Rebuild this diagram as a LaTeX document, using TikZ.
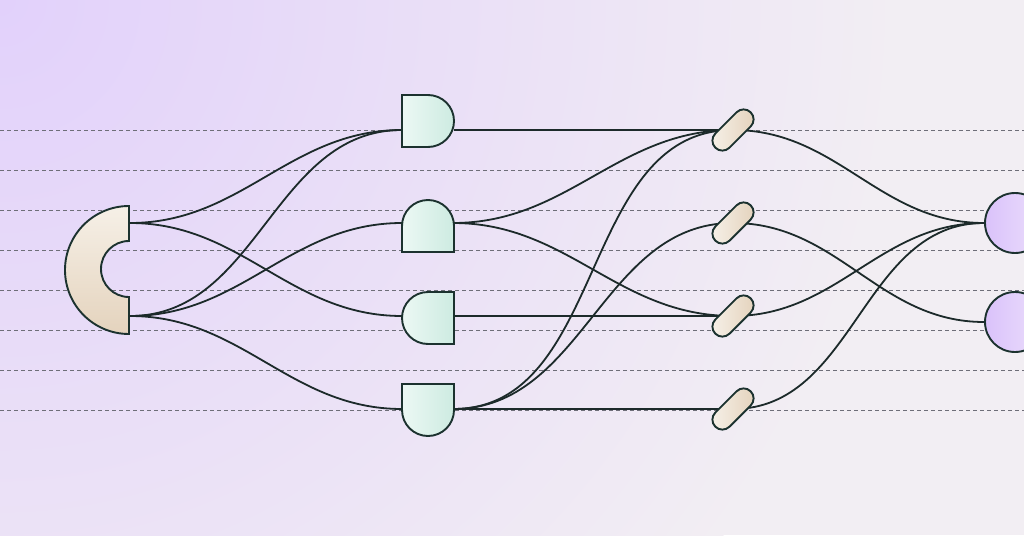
\documentclass[tikz,border=0pt]{standalone}
\usepackage{tikz}
\usetikzlibrary{shapes.misc}
\definecolor{bgtop}{HTML}{E2D1FB}
\definecolor{bgbot}{HTML}{F2EEF3}
\definecolor{wirec}{HTML}{1C2A2A}
\definecolor{edgec}{HTML}{1C322F}
\definecolor{gridc}{HTML}{6E6E78}
\definecolor{mintA}{HTML}{CDEBE1}
\definecolor{mintB}{HTML}{ECF8F4}
\definecolor{sandA}{HTML}{E4D3BD}
\definecolor{sandB}{HTML}{F6F0E7}
\definecolor{lilacA}{HTML}{DAC2FA}
\definecolor{lilacB}{HTML}{ECDFFC}
\tikzset{
  gate/.style={rounded rectangle, rounded rectangle left arc=none, minimum width=52pt,
    minimum height=52pt, inner sep=0pt, draw=edgec, line width=1.9pt, left color=mintB, right color=mintA},
  pill/.style={rounded rectangle, minimum width=50pt, minimum height=20pt, inner sep=0pt,
    draw=edgec, line width=1.9pt, rotate=45, left color=sandB, right color=sandA},
  sink/.style={circle, minimum size=60pt, inner sep=0pt, draw=edgec, line width=1.9pt,
    left color=lilacA, right color=lilacB},
  wire/.style={draw=wirec, line width=1.8pt},
  rail/.style={draw=gridc, line width=1pt, dash pattern=on 4pt off 3pt}
}

\begin{document}
\begin{tikzpicture}[x=1pt,y=-1pt]
\useasboundingbox (0,0) rectangle (1024,535);
\clip (0,0) rectangle (1024,535);
\fill[bgbot] (0,0) rectangle (1024,535);
\shade[inner color=bgtop, outer color=bgbot] (0,0) circle[radius=900];
\foreach \y in {130,170,...,410}
  \draw[rail] (0,\y) -- (1024,\y);

% source
\shadedraw[top color=sandB, bottom color=sandA, draw=edgec, line width=1.9pt]
  (129,206) arc[start angle=270, end angle=90, radius=64] -- (129,297)
  arc[start angle=90, end angle=270, radius=28] -- cycle;
\coordinate (h1) at (130,223);
\coordinate (h2) at (130,316);

% ports of the gates
\coordinate (g1in) at (402,130); \coordinate (g1out) at (454,130);
\coordinate (g2in) at (402,223); \coordinate (g2out) at (453,223);
\coordinate (g3in) at (402,316); \coordinate (g3out) at (453,316);
\coordinate (g4in) at (402,409); \coordinate (g4out) at (453,409);

\node (p1) at (733,130) {}; \node (p2) at (733,223) {};
\node (p3) at (733,316) {}; \node (p4) at (733,409) {};
\node[sink] (c1) at (1015,223) {};
\node[sink] (c2) at (1015,322) {};

\draw[wire] (h1) to[out=0,in=180] (g1in);
\draw[wire] (h1) to[out=0,in=180] (g3in);
\draw[wire] (h2) to[out=0,in=180] (g1in);
\draw[wire] (h2) to[out=0,in=180] (g2in);
\draw[wire] (h2) to[out=0,in=180] (g4in);

\draw[wire] (g1out) -- (p1.center);
\draw[wire] (g2out) to[out=0,in=180] (p1.center);
\draw[wire] (g2out) to[out=0,in=180] (p3.center);
\draw[wire] (g3out) -- (p3.center);
\draw[wire] (g4out) to[out=0,in=180] (p1.center);
\draw[wire] (g4out) to[out=0,in=180] (p2.center);
\draw[wire] (g4out) -- (p4.center);

\draw[wire] (p1.center) to[out=0,in=180] (c1.west);
\draw[wire] (p2.center) to[out=0,in=180] (c2.west);
\draw[wire] (p3.center) to[out=0,in=180] (c1.west);
\draw[wire] (p4.center) to[out=0,in=180] (c1.west);

\node[gate] (g1) at (428,121) {};
\node[gate, rotate=90] (g2) at (428,226) {};
\node[gate, rotate=180] (g3) at (428,318) {};
\node[gate, rotate=-90] (g4) at (428,410) {};

\node[pill] at (p1) {};
\node[pill] at (p2) {};
\node[pill] at (p3) {};
\node[pill] at (p4) {};
\end{tikzpicture}
\end{document}
